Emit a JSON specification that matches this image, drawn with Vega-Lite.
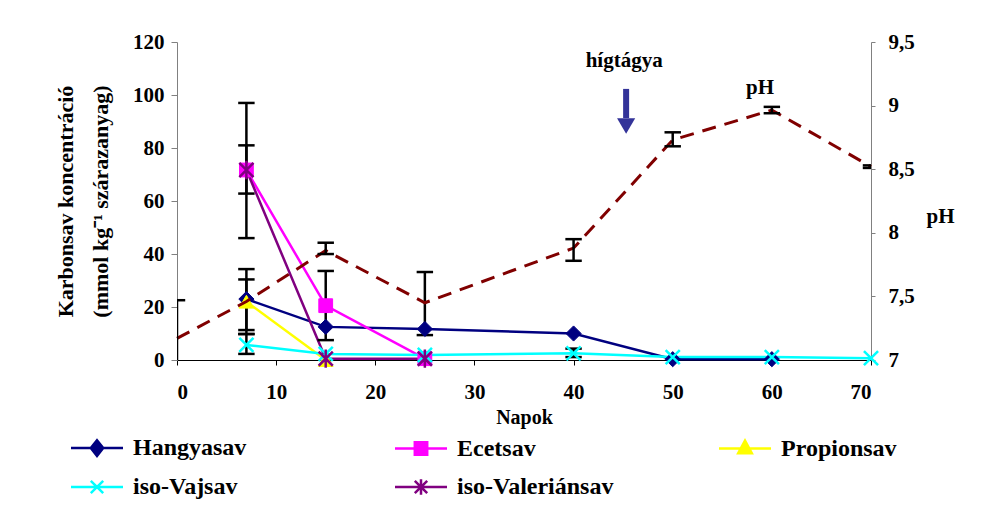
{
  "$schema": "https://vega.github.io/schema/vega-lite/v6.json",
  "width": 694,
  "height": 318,
  "autosize": {"type": "none"},
  "padding": {"left": 177, "top": 42, "right": 124, "bottom": 148},
  "background": "white",
  "config": {
    "view": {"stroke": null},
    "font": "Liberation Serif",
    "axis": {"grid": false, "labelFont": "Liberation Serif", "labelFontWeight": "bold", "labelColor": "black", "titleFont": "Liberation Serif", "titleFontWeight": "bold", "titleColor": "black"},
    "legend": {"labelFont": "Liberation Serif", "labelFontWeight": "bold", "labelColor": "black"}
  },
  "datasets": {
    "acid": [
      {"x": 7, "value": 23, "series": "Hangyasav"},
      {"x": 15, "value": 12.5, "series": "Hangyasav"},
      {"x": 25, "value": 11.7, "series": "Hangyasav"},
      {"x": 40, "value": 10, "series": "Hangyasav"},
      {"x": 50, "value": 0.3, "series": "Hangyasav"},
      {"x": 60, "value": 0.3, "series": "Hangyasav"},
      {"x": 7, "value": 71.7, "series": "Ecetsav"},
      {"x": 15, "value": 20.5, "series": "Ecetsav"},
      {"x": 25, "value": 0.5, "series": "Ecetsav"},
      {"x": 7, "value": 22, "series": "Propionsav"},
      {"x": 15, "value": 0, "series": "Propionsav"},
      {"x": 7, "value": 5.7, "series": "iso-Vajsav"},
      {"x": 15, "value": 2.3, "series": "iso-Vajsav"},
      {"x": 25, "value": 1.9, "series": "iso-Vajsav"},
      {"x": 40, "value": 2.5, "series": "iso-Vajsav"},
      {"x": 50, "value": 1.1, "series": "iso-Vajsav"},
      {"x": 60, "value": 1.1, "series": "iso-Vajsav"},
      {"x": 70, "value": 0.7, "series": "iso-Vajsav"},
      {"x": 7, "value": 71.7, "series": "iso-Valeriánsav"},
      {"x": 15, "value": 0.5, "series": "iso-Valeriánsav"},
      {"x": 25, "value": 0.5, "series": "iso-Valeriánsav"}
    ],
    "acidErr": [
      {"x": 7, "lo": 46, "hi": 97},
      {"x": 7, "lo": 62.8, "hi": 81},
      {"x": 7, "lo": 11.3, "hi": 34.3},
      {"x": 7, "lo": 9.8, "hi": 30.4},
      {"x": 7, "lo": 2.3, "hi": 9.8},
      {"x": 15, "lo": 7.5, "hi": 33.6},
      {"x": 25, "lo": 9.4, "hi": 33.2},
      {"x": 40, "lo": 1.1, "hi": 4.3}
    ],
    "ph": [
      {"x": 0, "ph": 7.17},
      {"x": 7, "ph": 7.46},
      {"x": 15, "ph": 7.86},
      {"x": 25, "ph": 7.45},
      {"x": 40, "ph": 7.88},
      {"x": 50, "ph": 8.73},
      {"x": 60, "ph": 8.965},
      {"x": 70, "ph": 8.52}
    ],
    "phErr": [
      {"x": 0, "lo": 6.9, "hi": 7.47},
      {"x": 15, "lo": 7.833, "hi": 7.922},
      {"x": 40, "lo": 7.78, "hi": 7.95},
      {"x": 50, "lo": 8.68, "hi": 8.79},
      {"x": 60, "lo": 8.94, "hi": 8.99},
      {"x": 70, "lo": 8.51, "hi": 8.53}
    ],
    "notes": [
      {"x": 45.1, "y": 113, "label": "hígtágya"},
      {"x": 58.8, "y": 102.6, "label": "pH"}
    ],
    "arrow": [
      {"x": 45.3, "top": 102.3, "bottom": 91.3, "head": 88.3}
    ]
  },
  "layer": [
    {
      "layer": [
        {
          "data": {"name": "acid"},
          "transform": [{"filter": "datum.series === 'Hangyasav'"}],
          "mark": {"type": "line", "strokeWidth": 2.5, "color": "#000080"},
          "encoding": {
            "x": {"field": "x", "type": "quantitative", "scale": {"domain": [0, 70], "nice": false}, "axis": {"values": [0, 10, 20, 30, 40, 50, 60, 70], "title": "Napok", "domainColor": "black", "tickColor": "black", "tickSize": 5, "labelFontSize": 21, "labelPadding": 16, "titleFontSize": 20, "titlePadding": 5}},
            "y": {"field": "value", "type": "quantitative", "scale": {"domain": [0, 120], "nice": false}, "axis": {"values": [0, 20, 40, 60, 80, 100, 120], "title": ["Karbonsav koncentráció", "(mmol kg⁻¹ szárazanyag)"], "domainColor": "#808080", "tickColor": "#808080", "tickSize": 6, "labelFontSize": 21, "labelPadding": 7, "titleFontSize": 22, "titleLineHeight": 35, "titlePadding": 20}}
          }
        },
        {
          "data": {"name": "acid"},
          "transform": [{"filter": "datum.series === 'Ecetsav'"}],
          "mark": {"type": "line", "strokeWidth": 2.5, "color": "#ff00ff"},
          "encoding": {"x": {"field": "x", "type": "quantitative"}, "y": {"field": "value", "type": "quantitative"}}
        },
        {
          "data": {"name": "acid"},
          "transform": [{"filter": "datum.series === 'Propionsav'"}],
          "mark": {"type": "line", "strokeWidth": 2.5, "color": "#ffff00"},
          "encoding": {"x": {"field": "x", "type": "quantitative"}, "y": {"field": "value", "type": "quantitative"}}
        },
        {
          "data": {"name": "acid"},
          "transform": [{"filter": "datum.series === 'iso-Vajsav'"}],
          "mark": {"type": "line", "strokeWidth": 2.5, "color": "#00ffff"},
          "encoding": {"x": {"field": "x", "type": "quantitative"}, "y": {"field": "value", "type": "quantitative"}}
        },
        {
          "data": {"name": "acid"},
          "transform": [{"filter": "datum.series === 'iso-Valeriánsav'"}],
          "mark": {"type": "line", "strokeWidth": 2.5, "color": "#800080"},
          "encoding": {"x": {"field": "x", "type": "quantitative"}, "y": {"field": "value", "type": "quantitative"}}
        },
        {
          "data": {"name": "acidErr"},
          "mark": {"type": "rule", "color": "black", "strokeWidth": 2.5},
          "encoding": {
            "x": {"field": "x", "type": "quantitative"},
            "y": {"field": "lo", "type": "quantitative"},
            "y2": {"field": "hi"}
          }
        },
        {
          "data": {"name": "acidErr"},
          "mark": {"type": "point", "shape": "stroke", "size": 270, "color": "black", "strokeWidth": 2.5, "filled": false, "opacity": 1},
          "encoding": {
            "x": {"field": "x", "type": "quantitative"},
            "y": {"field": "lo", "type": "quantitative"}
          }
        },
        {
          "data": {"name": "acidErr"},
          "mark": {"type": "point", "shape": "stroke", "size": 270, "color": "black", "strokeWidth": 2.5, "filled": false, "opacity": 1},
          "encoding": {
            "x": {"field": "x", "type": "quantitative"},
            "y": {"field": "hi", "type": "quantitative"}
          }
        },
        {
          "data": {"name": "acid"},
          "transform": [{"filter": "datum.series === 'Hangyasav'"}],
          "mark": {"type": "point", "shape": "diamond", "size": 230, "filled": true, "fill": "#000080", "stroke": "#000080", "strokeWidth": 1, "opacity": 1},
          "encoding": {"x": {"field": "x", "type": "quantitative"}, "y": {"field": "value", "type": "quantitative"}}
        },
        {
          "data": {"name": "acid"},
          "transform": [{"filter": "datum.series === 'Ecetsav'"}],
          "mark": {"type": "point", "shape": "square", "size": 190, "filled": true, "fill": "#ff00ff", "stroke": "#ff00ff", "strokeWidth": 1, "opacity": 1},
          "encoding": {"x": {"field": "x", "type": "quantitative"}, "y": {"field": "value", "type": "quantitative"}}
        },
        {
          "data": {"name": "acid"},
          "transform": [{"filter": "datum.series === 'Propionsav'"}],
          "mark": {"type": "point", "shape": "triangle-up", "size": 220, "filled": true, "fill": "#ffff00", "stroke": "#ffff00", "strokeWidth": 1, "opacity": 1},
          "encoding": {"x": {"field": "x", "type": "quantitative"}, "y": {"field": "value", "type": "quantitative"}}
        },
        {
          "data": {"name": "acid"},
          "transform": [{"filter": "datum.series === 'iso-Vajsav'"}],
          "mark": {"type": "point", "shape": "M-1,-1L1,1M-1,1L1,-1", "size": 200, "filled": false, "stroke": "#00ffff", "strokeWidth": 2.5, "opacity": 1},
          "encoding": {"x": {"field": "x", "type": "quantitative"}, "y": {"field": "value", "type": "quantitative"}}
        },
        {
          "data": {"name": "acid"},
          "transform": [{"filter": "datum.series === 'iso-Valeriánsav'"}],
          "mark": {"type": "point", "shape": "M-1,-1L1,1M-1,1L1,-1M0,-1.3V1.3", "size": 200, "filled": false, "stroke": "#800080", "strokeWidth": 2.5, "opacity": 1},
          "encoding": {"x": {"field": "x", "type": "quantitative"}, "y": {"field": "value", "type": "quantitative"}}
        },
        {
          "data": {"name": "acid"},
          "mark": {"type": "point", "filled": true, "opacity": 0, "size": 10},
          "encoding": {
            "x": {"field": "x", "type": "quantitative"},
            "y": {"field": "value", "type": "quantitative"},
            "fill": {
              "field": "series", "type": "nominal",
              "scale": {"domain": ["Hangyasav", "Ecetsav", "Propionsav", "iso-Vajsav", "iso-Valeriánsav"], "range": ["#000080", "#ff00ff", "#ffff00", "transparent", "transparent"]},
              "legend": {"title": null, "orient": "none", "legendX": -92, "legendY": 394, "direction": "horizontal", "columns": 3, "gridAlign": "all", "columnPadding": 100, "rowPadding": 13, "padding": 0, "symbolSize": 400, "labelFontSize": 24, "labelOffset": 24, "symbolStrokeWidth": 2.5, "symbolOpacity": 1}
            },
            "stroke": {
              "field": "series", "type": "nominal",
              "scale": {"domain": ["Hangyasav", "Ecetsav", "Propionsav", "iso-Vajsav", "iso-Valeriánsav"], "range": ["#000080", "#ff00ff", "#ffff00", "#00ffff", "#800080"]},
              "legend": {"title": null, "orient": "none", "legendX": -92, "legendY": 394, "direction": "horizontal", "columns": 3, "gridAlign": "all", "columnPadding": 100, "rowPadding": 13, "padding": 0, "symbolSize": 400, "labelFontSize": 24, "labelOffset": 24, "symbolStrokeWidth": 2.5, "symbolOpacity": 1}
            },
            "shape": {
              "field": "series", "type": "nominal",
              "scale": {"domain": ["Hangyasav", "Ecetsav", "Propionsav", "iso-Vajsav", "iso-Valeriánsav"], "range": ["M-2.6,0H2.6M0,-0.78L0.62,0L0,0.78L-0.62,0Z", "M-2.6,0H2.6M-0.62,-0.62H0.62V0.62H-0.62Z", "M-2.6,0H2.6M0,-0.78L0.68,0.47L-0.68,0.47Z", "M-2.6,0H2.6M-0.62,-0.62L0.62,0.62M-0.62,0.62L0.62,-0.62", "M-2.6,0H2.6M-0.62,-0.62L0.62,0.62M-0.62,0.62L0.62,-0.62M0,-0.78V0.78"]},
              "legend": {"title": null, "orient": "none", "legendX": -92, "legendY": 394, "direction": "horizontal", "columns": 3, "gridAlign": "all", "columnPadding": 100, "rowPadding": 13, "padding": 0, "symbolSize": 400, "labelFontSize": 24, "labelOffset": 24, "symbolStrokeWidth": 2.5, "symbolOpacity": 1}
            }
          }
        },
        {
          "data": {"name": "notes"},
          "mark": {"type": "text", "font": "Liberation Serif", "fontWeight": "bold", "fontSize": 21, "color": "black", "baseline": "middle", "align": "center"},
          "encoding": {
            "x": {"field": "x", "type": "quantitative"},
            "y": {"field": "y", "type": "quantitative"},
            "text": {"field": "label"}
          }
        },
        {
          "data": {"name": "arrow"},
          "mark": {"type": "rule", "color": "#333399", "strokeWidth": 6},
          "encoding": {
            "x": {"field": "x", "type": "quantitative"},
            "y": {"field": "top", "type": "quantitative"},
            "y2": {"field": "bottom"}
          }
        },
        {
          "data": {"name": "arrow"},
          "mark": {"type": "point", "shape": "triangle-down", "filled": true, "size": 330, "color": "#333399", "opacity": 1},
          "encoding": {
            "x": {"field": "x", "type": "quantitative"},
            "y": {"field": "head", "type": "quantitative"}
          }
        }
      ]
    },
    {
      "layer": [
        {
          "data": {"name": "ph"},
          "mark": {"type": "line", "color": "#800000", "strokeWidth": 3, "strokeDash": [14, 9]},
          "encoding": {
            "x": {"field": "x", "type": "quantitative"},
            "y": {"field": "ph", "type": "quantitative", "scale": {"domain": [7, 9.5], "nice": false, "zero": false}, "axis": {"orient": "right", "values": [7, 7.5, 8, 8.5, 9, 9.5], "labelExpr": "replace(format(datum.value, '.1~f'), '.', ',')", "title": "pH", "titleAngle": 0, "titleX": 69, "titleY": 174, "titleAlign": "center", "titleBaseline": "middle", "titleFontSize": 21, "domainColor": "#808080", "tickColor": "#808080", "tickSize": 4, "labelFontSize": 21, "labelPadding": 13}}
          }
        },
        {
          "data": {"name": "phErr"},
          "mark": {"type": "rule", "color": "black", "strokeWidth": 2.5, "clip": true},
          "encoding": {
            "x": {"field": "x", "type": "quantitative"},
            "y": {"field": "lo", "type": "quantitative"},
            "y2": {"field": "hi"}
          }
        },
        {
          "data": {"name": "phErr"},
          "mark": {"type": "point", "shape": "stroke", "size": 270, "color": "black", "strokeWidth": 2.5, "filled": false, "opacity": 1, "clip": true},
          "encoding": {
            "x": {"field": "x", "type": "quantitative"},
            "y": {"field": "lo", "type": "quantitative"}
          }
        },
        {
          "data": {"name": "phErr"},
          "mark": {"type": "point", "shape": "stroke", "size": 270, "color": "black", "strokeWidth": 2.5, "filled": false, "opacity": 1, "clip": true},
          "encoding": {
            "x": {"field": "x", "type": "quantitative"},
            "y": {"field": "hi", "type": "quantitative"}
          }
        }
      ]
    }
  ],
  "resolve": {"scale": {"y": "independent"}, "axis": {"y": "independent"}}
}
